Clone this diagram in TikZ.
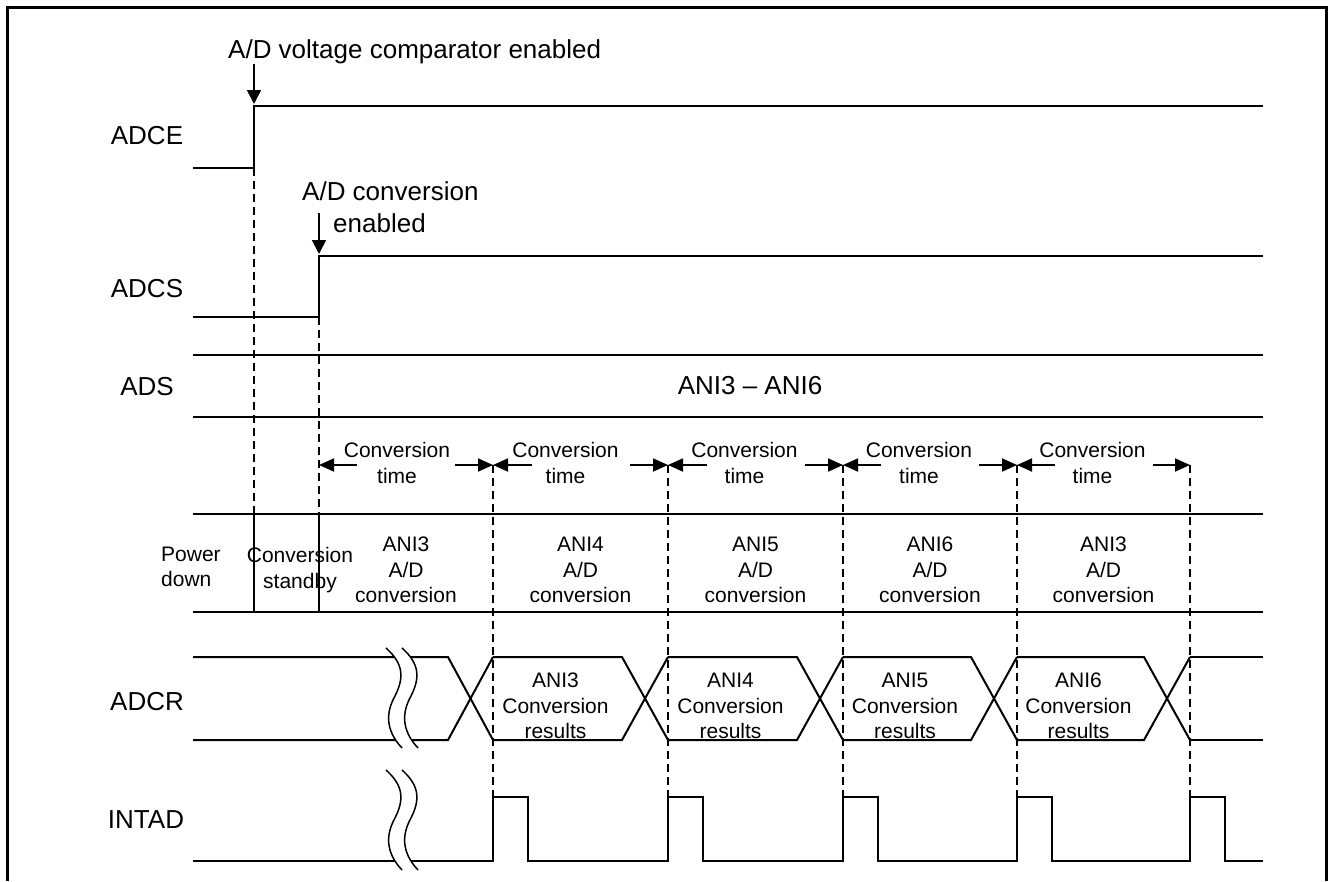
\documentclass[tikz,border=0pt]{standalone}
\usepackage{fontspec}
\setmainfont{Liberation Sans}
\usetikzlibrary{
  arrows.meta,
  positioning,
  calc,
}
\tikzset{
  sigLine/.style={line width=2pt, line join=miter},
  guideLine/.style={line width=1.8pt, dash pattern=on 8pt off 5pt},
  frameLine/.style={line width=3pt},
  arrowMark/.style={-{Triangle[length=14pt,width=14pt]}, line width=1.8pt},
  arrowSpan/.style={-{Triangle[length=15pt,width=13pt]}, line width=1.8pt},
  sigLabel/.style={font=\fontsize{26}{30}\selectfont, inner sep=0pt},
  noteText/.style={font=\fontsize{26}{33}\selectfont, inner sep=0pt},
  cellText/.style={font=\fontsize{21}{25.5}\selectfont, inner sep=0pt, align=center},
  brk/.pic={
    \fill[white] (0,0) .. controls (18,16) and (18,30) .. (9,48) .. controls (0,64) and (-1,82) .. (16,100)
      -- (32,100) .. controls (15,82) and (16,64) .. (25,48) .. controls (34,30) and (34,16) .. (16,0) -- cycle;
    \draw[line width=1.5pt] (0,0) .. controls (18,16) and (18,30) .. (9,48) .. controls (0,64) and (-1,82) .. (16,100);
    \draw[line width=1.5pt] (16,0) .. controls (34,16) and (34,30) .. (25,48) .. controls (16,64) and (15,82) .. (32,100);
  },
}

\begin{document}
\begin{tikzpicture}[x=1pt, y=-1pt]
\useasboundingbox (0,0) rectangle (1328,881);

% Frame (open at the bottom)
\draw[frameLine] (7,881) -- (7,7) -- (1326,7) -- (1326,881);

% Signal names
\node[sigLabel] (lADCE) at (147,136) {ADCE};
\node[sigLabel] (lADCS) at (147,289) {ADCS};
\node[sigLabel] (lADS) at (147,387) {ADS};
\node[sigLabel] (lADCR) at (147,702) {ADCR};
\node[sigLabel] (lINTAD) at (146,820) {INTAD};

% Edge points
\coordinate (eCE) at (254,106);
\coordinate (eCS) at (319,256);
\foreach \i/\x in {0/319,1/493,2/668,3/843,4/1017,5/1190}
  \coordinate (t\i) at (\x,465);

% ADCE
\draw[sigLine] (193,168) -- (254,168) -- (eCE) -- (1263,106);
\node[noteText, anchor=base west] (vcmp) at (228,58) {A/D voltage comparator enabled};
\draw[arrowMark] (vcmp.south -| eCE) -- ([yshift=2pt]eCE);

% ADCS
\draw[sigLine] (193,317) -- (319,317) -- (eCS) -- (1263,256);
\node[noteText, anchor=base west] (cnvA) at (302,200) {A/D conversion};
\node[noteText, anchor=base west] (cnvB) at (333,232) {enabled};
\draw[arrowMark] (cnvB.north -| eCS) -- ([yshift=2pt]eCS);

% ADS
\draw[sigLine] (193,355) -- (1263,355);
\draw[sigLine] (193,417) -- (1263,417);
\node[sigLabel] (adsVal) at (750,386) {ANI3 – ANI6};

% Guide lines
\draw[guideLine] (254,168) -- (254,514);
\draw[guideLine] (319,317) -- (319,514);
\foreach \i in {1,...,5}
  \draw[guideLine] (t\i) -- ++(0,332);

% Conversion time spans
\foreach \i/\dx [evaluate=\i as \j using int(\i+1)] in {0/-9,1/-15,2/-11,3/-11,4/-11} {
  \coordinate (m\i) at ($(t\i)!0.5!(t\j)$);
  \node[cellText] (ct\i) at ([xshift=\dx pt, yshift=2pt]m\i) {Conversion\\time};
  \draw[arrowSpan] ([xshift=-49pt]m\i) -- (t\i);
  \draw[arrowSpan] ([xshift=49pt]m\i) -- (t\j);
}

% State row
\draw[sigLine] (193,514) -- (1263,514);
\draw[sigLine] (193,612) -- (1263,612);
\draw[sigLine] (254,514) -- (254,612);
\draw[sigLine] (319,514) -- (319,612);
\node[cellText, align=left, anchor=west] (pwr) at (161,567) {Power\\down};
\node[cellText] (stby) at (300,570) {Conversion\\standby};
\foreach \i/\ch [evaluate=\i as \j using int(\i+1)] in {0/3,1/4,2/5,3/6,4/3}
  \node[cellText] (adc\i) at ($(t\i)!0.5!(t\j) + (0,105)$) {ANI\ch\\A/D\\conversion};

% ADCR
\draw[sigLine] (193,657) -- (448,657) -- (493,740);
\draw[sigLine] (193,740) -- (448,740) -- (493,657);
\foreach \a/\b in {493/668,668/843,843/1017,1017/1190} {
  \draw[sigLine] (\a,657) -- ({\b-46},657) -- (\b,740);
  \draw[sigLine] (\a,740) -- ({\b-46},740) -- (\b,657);
}
\draw[sigLine] (1190,657) -- (1263,657);
\draw[sigLine] (1190,740) -- (1263,740);
\foreach \a/\b/\ch [count=\k] in {493/668/3,668/843/4,843/1017/5,1017/1190/6}
  \node[cellText] (res\k) at ({(\a+\b-46)/2-2},706) {ANI\ch\\Conversion\\results};

% INTAD
\draw[sigLine] (193,861) \foreach \x in {493,668,843,1017,1190} {
  -- (\x,861) -- (\x,797) -- ({\x+35},797) -- ({\x+35},861) } -- (1263,861);

% Breaks
\pic at (386,648) {brk};
\pic at (386,770) {brk};

\end{tikzpicture}
\end{document}
